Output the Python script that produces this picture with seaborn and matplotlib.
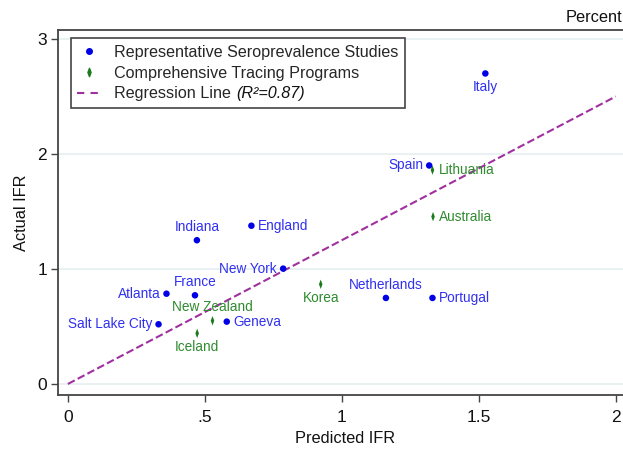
import numpy as np
import pandas as pd
import matplotlib.pyplot as plt
import seaborn as sns
from matplotlib.lines import Line2D
from matplotlib.path import Path

# values (percent)
sero_names = ['Italy', 'Spain', 'Indiana', 'England', 'New York', 'Atlanta',
              'France', 'Salt Lake City', 'Geneva', 'Netherlands', 'Portugal']
sero_pred = [1.524, 1.319, 0.471, 0.670, 0.786, 0.360, 0.464, 0.331, 0.580, 1.161, 1.331]
sero_act = [2.70, 1.90, 1.25, 1.376, 1.003, 0.785, 0.771, 0.519, 0.542, 0.748, 0.748]

trace_names = ['Lithuania', 'Australia', 'New Zealand', 'Iceland', 'Korea']
trace_pred = [1.331, 1.333, 0.528, 0.472, 0.923]
trace_act = [1.86, 1.455, 0.55, 0.44, 0.867]

reg_x = [0, 2]
reg_y = [0, 2.5]
r_squared = 0.87

# where each label sits relative to its point
label_pos = {
    'Italy': 'below', 'Spain': 'left', 'Lithuania': 'right', 'Australia': 'right',
    'Indiana': 'above', 'England': 'right', 'New York': 'left', 'Atlanta': 'left',
    'France': 'above', 'Salt Lake City': 'left', 'Geneva': 'right',
    'New Zealand': 'above', 'Iceland': 'below', 'Korea': 'below',
    'Netherlands': 'above', 'Portugal': 'right',
}

sns.set_theme(style='white')
plt.rcParams['font.family'] = ['Liberation Sans', 'DejaVu Sans']

BLUE = '#0000e6'
BLUE_TXT = '#3030f0'
GREEN = '#1b7a1b'
GREEN_TXT = '#2e8b2e'
PURPLE = '#a0309f'

sero = pd.DataFrame({'name': sero_names, 'pred': sero_pred, 'act': sero_act})
trace = pd.DataFrame({'name': trace_names, 'pred': trace_pred, 'act': trace_act})

thin_diamond = Path([(0, 1), (0.38, 0), (0, -1), (-0.38, 0), (0, 1)],
                    [Path.MOVETO, Path.LINETO, Path.LINETO, Path.LINETO, Path.CLOSEPOLY])

fig = plt.figure(figsize=(6.23, 4.49), dpi=100)
ax = fig.add_axes([58 / 623, (449 - 395) / 449, 575 / 623, 365 / 449])

for yv in [0, 1, 2, 3]:
    ax.axhline(yv, color='#e6eff0', lw=1.2, zorder=0)

sns.lineplot(x=reg_x, y=reg_y, ax=ax, color=PURPLE, lw=1.5, dashes=(5, 3.5),
             linestyle='--', zorder=2)
sns.scatterplot(data=sero, x='pred', y='act', ax=ax, color=BLUE, s=22,
                edgecolor='none', zorder=3)
sns.scatterplot(data=trace, x='pred', y='act', ax=ax, color=GREEN, s=45,
                marker=thin_diamond, edgecolor='none', zorder=3)

offsets = {'left': (-4.5, 0, 'right', 'center'), 'right': (4.5, 0, 'left', 'center'),
           'above': (0, 4.5, 'center', 'bottom'), 'below': (0, -4.5, 'center', 'top')}
for df, col in [(sero, BLUE_TXT), (trace, GREEN_TXT)]:
    for _, r in df.iterrows():
        dx, dy, ha, va = offsets[label_pos[r['name']]]
        ax.annotate(r['name'], (r['pred'], r['act']), xytext=(dx, dy),
                    textcoords='offset points', ha=ha, va=va, color=col,
                    fontsize=9.8, zorder=4)

ax.set_xlim(-0.036, 2.063)
ax.set_ylim(-0.096, 3.078)
ax.set_xticks([0, 0.5, 1, 1.5, 2])
ax.set_xticklabels(['0', '.5', '1', '1.5', '2'])
ax.set_yticks([0, 1, 2, 3])
ax.set_yticklabels(['0', '1', '2', '3'])
ax.tick_params(axis='both', which='both', direction='out', length=5, width=1,
               color='#444444', labelsize=12.5, labelcolor='#111111', pad=3,
               left=True, bottom=True)
ax.tick_params(axis='x', pad=6)
for sp in ax.spines.values():
    sp.set_color('#444444')
    sp.set_linewidth(1.3)
ax.spines['right'].set_visible(False)

ax.set_xlabel('Predicted IFR', fontsize=11.8, color='#111111', labelpad=4)
ax.set_ylabel('Actual IFR', fontsize=11.8, color='#111111', labelpad=6)
fig.text(0.998, (449 - 17) / 449, 'Percent', ha='right', va='center',
         fontsize=11.8, color='#111111')

handles = [
    Line2D([], [], ls='none', marker='o', color=BLUE, markersize=4),
    Line2D([], [], ls='none', marker=thin_diamond, color=GREEN, markersize=6),
    Line2D([], [], color=PURPLE, lw=1.5, ls=(0, (3.5, 3))),
]
labels = ['Representative Seroprevalence Studies', 'Comprehensive Tracing Programs',
          'Regression Line']
leg = ax.legend(handles, labels, loc='upper left', bbox_to_anchor=(0.008, 0.999),
                fontsize=11.6, frameon=True, fancybox=False, edgecolor='#444444',
                framealpha=1, handlelength=1.5, handletextpad=0.8,
                borderpad=0.4, labelspacing=0.36)
leg.get_frame().set_linewidth(1.2)

# italic R-squared part after the regression line label
fig.canvas.draw()
reg_txt = leg.get_texts()[2]
ax.annotate(f'(R\u00b2={r_squared:.2f})', xy=(1, 0), xycoords=reg_txt,
            xytext=(3.5, 0), textcoords='offset points', ha='left', va='bottom',
            fontsize=11.6, fontstyle='italic', color='#111111', zorder=6)

fig.savefig('out.png', dpi=100)
